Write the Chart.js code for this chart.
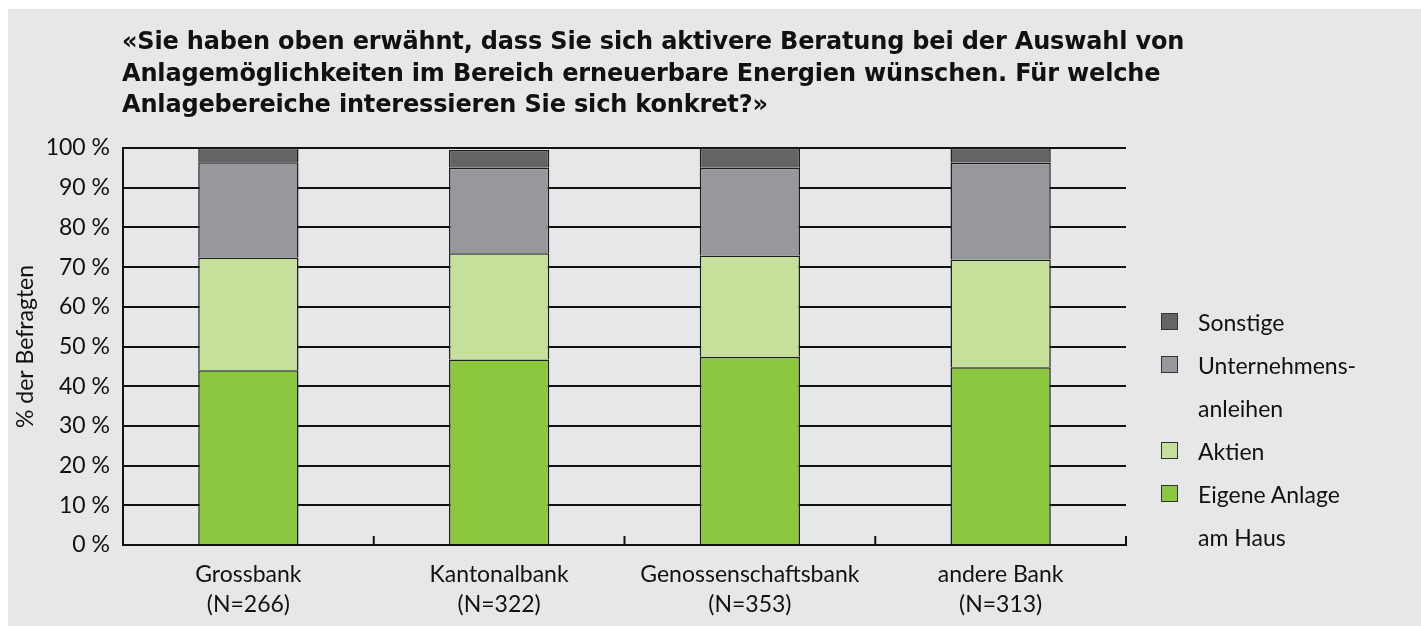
<!DOCTYPE html>
<html>
<head>
<meta charset="utf-8">
<script src="https://cdn.jsdelivr.net/npm/chart.js@4/dist/chart.umd.min.js"></script>
<style>
    html, body { margin: 0; padding: 0; background: #fff; }
    #wrap { position: relative; width: 1421px; height: 626px; overflow: hidden; }
    #panel { position: absolute; left: 8px; top: 9px; right: 0; bottom: 0; background: #e6e7e8; }
    #chart { position: absolute; left: 0; top: 0; }
    #title {
        position: absolute; left: 122px; top: 26px;
        font-family: "DejaVu Sans", sans-serif; font-weight: bold; font-size: 24px;
        line-height: 31.5px; color: #111; white-space: nowrap;
    }
    #legend {
        position: absolute; left: 1161px; top: 301px;
        font-family: Lato, sans-serif; font-size: 23px; color: #111;
        line-height: 43px;
    }
    .item { position: relative; padding-left: 37px; }
    .box {
        position: absolute; left: 0; top: 12px; width: 17px; height: 17px;
        border: 1px solid #333; box-sizing: border-box;
    }
</style>
</head>
<body>
<div id="wrap">
    <div id="panel"></div>
    <canvas id="chart" width="1421" height="626"></canvas>
    <div id="title"><span class="tl">«Sie haben oben erwähnt, dass Sie sich aktivere Beratung bei der Auswahl von</span><br><span class="tl">Anlagemöglichkeiten im Bereich erneuerbare Energien wünschen. Für welche</span><br><span class="tl">Anlagebereiche interessieren Sie sich konkret?»</span></div>
    <div id="legend"></div>
</div>
<script>
// --- Data ---
const categories = [
    ['Grossbank', '(N=266)'],
    ['Kantonalbank', '(N=322)'],
    ['Genossenschaftsbank', '(N=353)'],
    ['andere Bank', '(N=313)'],
];
const eigeneAnlage = [44.0, 46.7, 47.4, 44.8];
const aktien = [28.4, 26.8, 25.5, 27.1];
const unternehmensanleihen = [24.0, 21.5, 22.1, 24.4];
const sonstige = [3.6, 4.5, 5.0, 3.7];
const yTicks = [0, 10, 20, 30, 40, 50, 60, 70, 80, 90, 100];

const FONT = 'Lato, sans-serif';
const INK = '#111';

const datasets = [
    { label: ['Eigene Anlage', 'am Haus'], data: eigeneAnlage, backgroundColor: '#8dc63f' },
    { label: ['Aktien'], data: aktien, backgroundColor: '#c5e09b' },
    { label: ['Unternehmens-', 'anleihen'], data: unternehmensanleihen, backgroundColor: '#97989b' },
    { label: ['Sonstige'], data: sonstige, backgroundColor: '#636466' },
].map((d) => ({
    ...d,
    borderColor: '#1e1e1e',
    borderWidth: 1.5,
    barPercentage: 0.5,
    categoryPercentage: 0.8,
}));

// title: nudge the first line to the reference width (~1062px)
(function fitTitle() {
    const first = document.querySelector('#title .tl');
    const w = first.getBoundingClientRect().width;
    const chars = first.textContent.length;
    const ls = (1062 - w) / chars;
    document.getElementById('title').style.letterSpacing = ls.toFixed(2) + 'px';
})();

// --- Upward tick marks on the x axis at category borders ---
const xTickMarks = {
    id: 'xTickMarks',
    afterDraw(chart) {
        const x = chart.scales.x;
        const ctx = chart.ctx;
        const n = categories.length;
        ctx.save();
        ctx.strokeStyle = INK;
        ctx.lineWidth = 2;
        for (let i = 0; i <= n; i++) {
            const px = x.left + i * (x.width / n);
            ctx.beginPath();
            ctx.moveTo(px, x.top);
            ctx.lineTo(px, x.top - 9);
            ctx.stroke();
        }
        ctx.restore();
    },
};

const ctx = document.getElementById('chart').getContext('2d');
const chart = new Chart(ctx, {
    type: 'bar',
    data: {
        labels: categories,
        datasets: datasets.map((d) => ({ ...d, label: d.label.join(' ') })),
    },
    options: {
        responsive: false,
        animation: false,
        layout: { padding: { left: 8, right: 295, top: 148, bottom: 0 } },
        scales: {
            x: {
                stacked: true,
                grid: { display: false, drawTicks: false },
                border: { display: true, color: INK, width: 2 },
                ticks: {
                    color: INK,
                    padding: 15,
                    maxRotation: 0,
                    font: { family: FONT, size: 23, lineHeight: 1.3 },
                },
                afterFit(scale) { scale.height = 81; },
            },
            y: {
                stacked: true,
                min: 0,
                max: 100,
                afterBuildTicks(scale) {
                    scale.ticks = yTicks.map((v) => ({ value: v }));
                },
                grid: { color: INK, lineWidth: 2, drawTicks: false },
                border: { display: true, color: INK, width: 2 },
                ticks: {
                    color: INK,
                    padding: 13,
                    font: { family: FONT, size: 23 },
                    callback: (v) => v + ' %',
                },
                title: {
                    display: true,
                    text: '% der Befragten',
                    color: INK,
                    padding: { top: 4, bottom: 0 },
                    font: { family: FONT, size: 23 },
                },
                afterFit(scale) { scale.width = 115; },
            },
        },
        plugins: {
            legend: { display: false },
            tooltip: { enabled: false },
        },
    },
    plugins: [xTickMarks],
});

// --- Legend (top of the stack first) ---
const legendEl = document.getElementById('legend');
datasets.slice().reverse().forEach((d) => {
    const item = document.createElement('div');
    item.className = 'item';
    const box = document.createElement('span');
    box.className = 'box';
    box.style.background = d.backgroundColor;
    item.appendChild(box);
    item.appendChild(document.createTextNode(d.label[0]));
    for (let i = 1; i < d.label.length; i++) {
        item.appendChild(document.createElement('br'));
        item.appendChild(document.createTextNode(d.label[i]));
    }
    legendEl.appendChild(item);
});
</script>
</body>
</html>
